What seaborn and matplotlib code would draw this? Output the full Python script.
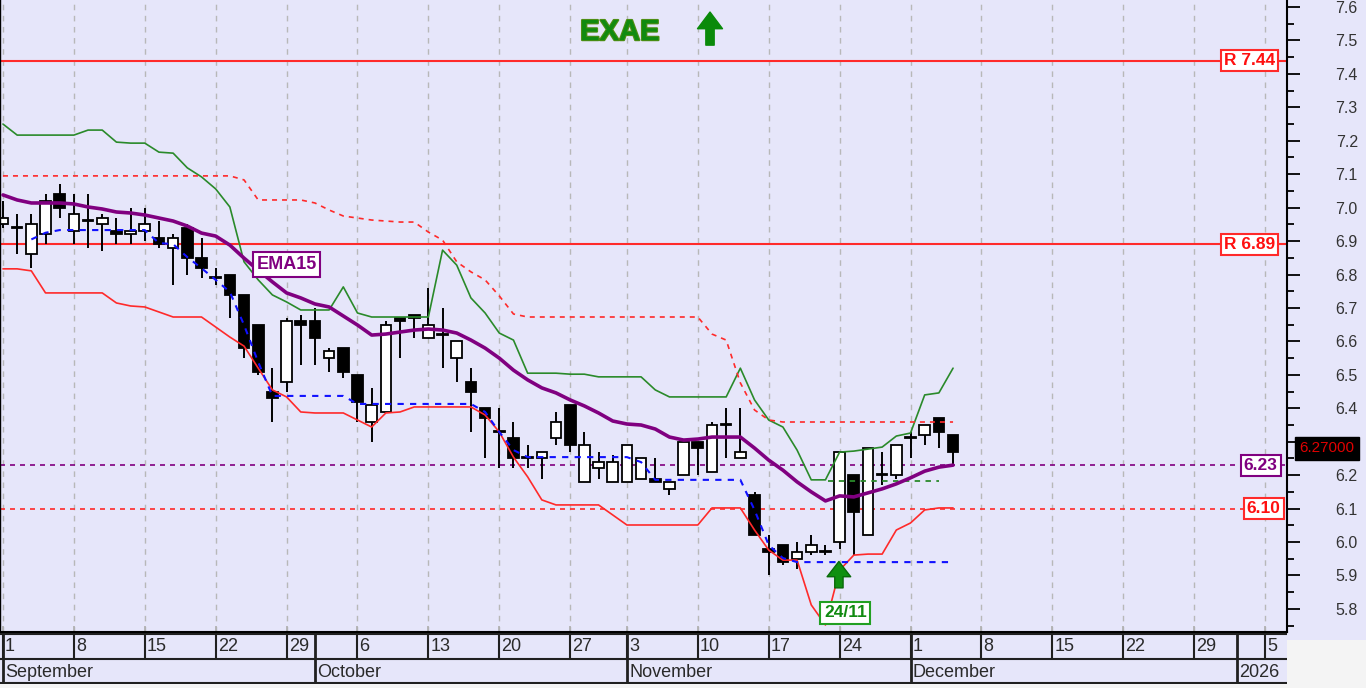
import numpy as np
import pandas as pd
import matplotlib
matplotlib.use('Agg')
import matplotlib.pyplot as plt
import matplotlib.patheffects as pe
from matplotlib.patches import Rectangle
import seaborn as sns

# Daily candles, 1 Sep - 4 Dec 2025 (trading days)
opens = [6.95, 6.94, 6.86, 6.92, 7.04, 6.93, 6.96, 6.95, 6.93, 6.92, 6.93, 6.91, 6.88, 6.94, 6.85,
         6.79, 6.80, 6.74, 6.65, 6.45, 6.48, 6.66, 6.66, 6.55, 6.58, 6.50, 6.36, 6.39, 6.67, 6.68,
         6.61, 6.62, 6.55, 6.48, 6.40, 6.33, 6.31, 6.25, 6.25, 6.31, 6.41, 6.18, 6.22, 6.18, 6.18,
         6.19, 6.19, 6.16, 6.20, 6.30, 6.21, 6.35, 6.25, 6.14, 5.98, 5.99, 5.95, 5.97, 5.97, 6.00,
         6.20, 6.02, 6.20, 6.20, 6.31, 6.32, 6.37, 6.32]
highs = [7.02, 6.98, 6.98, 7.04, 7.07, 7.04, 7.04, 6.98, 6.97, 7.00, 7.00, 6.96, 6.92, 6.95, 6.91,
         6.82, 6.80, 6.74, 6.65, 6.52, 6.67, 6.68, 6.70, 6.58, 6.58, 6.50, 6.46, 6.66, 6.67, 6.68,
         6.76, 6.70, 6.60, 6.52, 6.40, 6.40, 6.36, 6.29, 6.27, 6.39, 6.41, 6.33, 6.27, 6.26, 6.29,
         6.25, 6.25, 6.18, 6.30, 6.30, 6.36, 6.40, 6.40, 6.15, 6.02, 5.99, 6.00, 6.02, 5.99, 6.27,
         6.20, 6.28, 6.27, 6.29, 6.33, 6.35, 6.37, 6.32]
lows = [6.94, 6.86, 6.82, 6.89, 6.97, 6.89, 6.88, 6.87, 6.89, 6.89, 6.90, 6.88, 6.77, 6.80, 6.79,
        6.77, 6.67, 6.55, 6.50, 6.36, 6.45, 6.53, 6.53, 6.51, 6.49, 6.36, 6.30, 6.39, 6.55, 6.61,
        6.61, 6.52, 6.48, 6.33, 6.25, 6.22, 6.22, 6.22, 6.19, 6.29, 6.27, 6.18, 6.19, 6.18, 6.18,
        6.19, 6.18, 6.14, 6.20, 6.20, 6.21, 6.25, 6.25, 6.02, 5.90, 5.93, 5.92, 5.96, 5.96, 5.98,
        5.96, 6.02, 6.17, 6.19, 6.25, 6.29, 6.28, 6.23]
closes = [6.97, 6.94, 6.95, 7.02, 7.00, 6.98, 6.96, 6.97, 6.92, 6.93, 6.95, 6.89, 6.91, 6.85, 6.82,
          6.79, 6.74, 6.58, 6.51, 6.43, 6.66, 6.65, 6.61, 6.57, 6.51, 6.42, 6.41, 6.65, 6.66, 6.67,
          6.65, 6.62, 6.60, 6.45, 6.37, 6.33, 6.25, 6.25, 6.27, 6.36, 6.29, 6.29, 6.24, 6.24, 6.29,
          6.25, 6.18, 6.18, 6.30, 6.28, 6.35, 6.35, 6.27, 6.02, 5.97, 5.94, 5.97, 5.99, 5.97, 6.27,
          6.09, 6.28, 6.20, 6.29, 6.31, 6.35, 6.33, 6.27]

# Indicator lines, one value per trading day
ema15 = [7.038, 7.023, 7.014, 7.014, 7.014, 7.011, 7.002, 6.996, 6.987, 6.984, 6.978, 6.969, 6.960,
         6.945, 6.924, 6.915, 6.888, 6.849, 6.813, 6.778, 6.745, 6.730, 6.712, 6.703, 6.676, 6.649,
         6.619, 6.622, 6.628, 6.634, 6.637, 6.634, 6.625, 6.604, 6.580, 6.550, 6.514, 6.485, 6.461,
         6.446, 6.425, 6.407, 6.386, 6.362, 6.353, 6.350, 6.338, 6.314, 6.305, 6.308, 6.314, 6.314,
         6.314, 6.281, 6.245, 6.215, 6.180, 6.150, 6.123, 6.138, 6.135, 6.147, 6.159, 6.174, 6.192,
         6.212, 6.224, 6.230]
upper_band = [7.250, 7.217, 7.217, 7.217, 7.217, 7.217, 7.232, 7.232, 7.196, 7.193, 7.193, 7.166,
              7.163, 7.119, 7.092, 7.056, 7.002, 6.838, 6.784, 6.739, 6.718, 6.694, 6.694, 6.694,
              6.763, 6.685, 6.673, 6.673, 6.673, 6.673, 6.673, 6.873, 6.828, 6.730, 6.685, 6.625,
              6.604, 6.505, 6.505, 6.505, 6.502, 6.502, 6.494, 6.494, 6.494, 6.494, 6.455, 6.434,
              6.434, 6.434, 6.434, 6.434, 6.520, 6.425, 6.365, 6.344, 6.275, 6.186, 6.186, 6.269,
              6.272, 6.278, 6.284, 6.317, 6.326, 6.440, 6.446, 6.520]
lower_band = [6.817, 6.817, 6.811, 6.745, 6.745, 6.745, 6.745, 6.745, 6.715, 6.706, 6.703, 6.688,
              6.673, 6.673, 6.673, 6.643, 6.613, 6.586, 6.520, 6.455, 6.434, 6.389, 6.386, 6.386,
              6.386, 6.365, 6.344, 6.386, 6.389, 6.404, 6.404, 6.404, 6.404, 6.404, 6.380, 6.329,
              6.254, 6.195, 6.126, 6.111, 6.111, 6.111, 6.111, 6.081, 6.051, 6.051, 6.051, 6.051,
              6.051, 6.051, 6.102, 6.102, 6.102, 6.036, 5.976, 5.946, 5.946, 5.812, 5.752, 5.916,
              5.961, 5.964, 5.964, 6.036, 6.057, 6.096, 6.102, 6.102]
upper_stop = [7.095] * 17 + [7.083, 7.023, 7.023, 7.023, 7.023, 7.014, 6.993, 6.975, 6.969, 6.963,
                             6.960, 6.957, 6.957, 6.927, 6.903, 6.838, 6.808, 6.784, 6.736, 6.682] \
    + [6.673] * 13 + [6.622, 6.604, 6.476, 6.395, 6.365] + [6.359] * 13
support_start = 2
support_line = [6.905, 6.925, 6.933, 6.933, 6.933, 6.933, 6.933, 6.933, 6.933, 6.894, 6.891, 6.852,
                6.819, 6.784, 6.748, 6.649, 6.538, 6.437, 6.437, 6.437, 6.437, 6.437, 6.437, 6.413,
                6.413, 6.413, 6.413, 6.413, 6.413, 6.413, 6.413, 6.413, 6.389, 6.329, 6.275, 6.254,
                6.254, 6.254, 6.254, 6.254, 6.254, 6.254, 6.254, 6.239, 6.186, 6.186, 6.186, 6.186,
                6.186, 6.186, 6.186, 6.096, 5.991, 5.952] + [5.940] * 12

resistances = [7.44, 6.89]
ema_last = 6.23
support_level = 6.10
last_price = 6.27
signal_level = 6.183
signal_day = 59   # 24/11

# trading calendar (Athens: 28 Oct closed), runs past the data into January
days = pd.bdate_range('2025-09-01', '2026-01-09')
days = days[days != pd.Timestamp('2025-10-28')]
n = len(opens)
idx = np.arange(n)

sns.set_theme(style='white', rc={'axes.facecolor': '#E6E6FA', 'figure.facecolor': '#F4F4F4'})
plt.rcParams['font.family'] = ['Liberation Sans', 'DejaVu Sans']

W, H = 1366, 688
fig = plt.figure(figsize=(W / 100, H / 100), dpi=100)
fig.add_artist(Rectangle((1287 / W, 1 - 640 / H), 1 - 1287 / W, 640 / H,
                         transform=fig.transFigure, fc='#E6E6FA', ec='none', zorder=-5))
ax = fig.add_axes([0, 1 - 632 / H, 1287 / W, 632 / H])
axd = fig.add_axes([0, 1 - 684 / H, 1287 / W, 51 / H])

xlim = (-0.21, 90.55)
ax.set_xlim(*xlim)
ax.set_ylim(5.731, 7.621)

mondays = [i for i, d in enumerate(days) if d.weekday() == 0]
month_starts = [i for i in range(len(days)) if i == 0 or days[i].month != days[i - 1].month]

ax.set_xticks(mondays)
ax.set_xticklabels([])
ax.grid(axis='x', color='#B8B8B8', linestyle=(0, (4, 4)), linewidth=1)
ax.grid(axis='y', visible=False)
ax.tick_params(axis='x', direction='in', length=4, color='#B0B0B0', bottom=True)

# candles
o, h, l, c = map(np.array, (opens, highs, lows, closes))
up = c >= o
ax.vlines(idx, l, h, color='black', linewidth=1.4, zorder=2)
ax.bar(idx, np.maximum(np.abs(c - o), 0.003), bottom=np.minimum(o, c), width=0.75,
       color=np.where(up, 'white', 'black'), edgecolor='black', linewidth=1.3, zorder=2.5)

# indicator lines
sns.lineplot(x=idx, y=upper_band, ax=ax, color='#2A8A2A', linewidth=1.2, zorder=3)
sns.lineplot(x=idx, y=lower_band, ax=ax, color='#FF2A2A', linewidth=1.2, zorder=3)
sns.lineplot(x=idx, y=upper_stop, ax=ax, color='#FF2A2A', linewidth=1.2,
             linestyle=(0, (3, 3)), zorder=3)
sns.lineplot(x=np.arange(support_start, n), y=support_line, ax=ax, color='#1010FF',
             linewidth=1.5, linestyle=(0, (3, 3)), zorder=3)
sns.lineplot(x=idx, y=ema15, ax=ax, color='#800080', linewidth=2.6, zorder=4)

# horizontal levels
box = dict(boxstyle='square,pad=0.18', fc='white', lw=1.5)
for r in resistances:
    ax.axhline(r, color='#FF2A2A', linewidth=1.5, zorder=1.5)
    ax.text(87.9, r, f'R {r:.2f}', ha='center', va='center', color='#FF1010',
            fontsize=12.5, fontweight='bold', zorder=6, bbox=dict(box, ec='#FF2A2A'))
ax.axhline(ema_last, color='#800080', linewidth=1.2, linestyle=(0, (3, 3)), zorder=1.5)
ax.text(88.7, ema_last, f'{ema_last:.2f}', ha='center', va='center', color='#800080',
        fontsize=12.5, fontweight='bold', zorder=6, bbox=dict(box, ec='#800080'))
ax.axhline(support_level, color='#FF2A2A', linewidth=1.2, linestyle=(0, (3, 3)), zorder=1.5)
ax.text(88.9, support_level, f'{support_level:.2f}', ha='center', va='center', color='#FF1010',
        fontsize=12.5, fontweight='bold', zorder=6, bbox=dict(box, ec='#FF2A2A'))
ax.hlines(signal_level, 58.2, 66, color='#2A8A2A', linewidth=1.3, linestyle=(0, (3, 3)), zorder=3)

# annotations
ax.text(20.0, 6.830, 'EMA15', ha='center', va='center', color='#800080', fontsize=13,
        fontweight='bold', zorder=6,
        bbox=dict(boxstyle='square,pad=0.2', fc='white', ec='#800080', lw=1.5))
ax.text(43.5, 7.525, 'EXAE', ha='center', va='center', color='#108A10', fontsize=21,
        fontweight='bold', zorder=6,
        path_effects=[pe.withStroke(linewidth=1.6, foreground='#4E8E14')])
ax.annotate('', xy=(49.86, 7.585), xytext=(49.86, 7.486),
            arrowprops=dict(width=6, headwidth=18, headlength=12, fc='#0A8A0A', ec='#0A8A0A'))
ax.annotate('', xy=(signal_day - 0.05, 5.942), xytext=(signal_day - 0.05, 5.863),
            arrowprops=dict(width=6, headwidth=17, headlength=11, fc='#109010', ec='#0A6A0A'))
ax.text(signal_day + 0.4, 5.788, '24/11', ha='center', va='center', color='#108A10',
        fontsize=12.5, fontweight='bold', zorder=6,
        bbox=dict(boxstyle='square,pad=0.2', fc='white', ec='#22A022', lw=1.5))
ax.text(1327 / 1287, last_price + 0.011, f'{last_price:.5f}', transform=ax.get_yaxis_transform(),
        ha='center', va='center', color='#E00000', fontsize=11, clip_on=False, zorder=6,
        bbox=dict(boxstyle='square,pad=0.3', fc='black', ec='black'))

# price axis on the right (the 6.3 label sits under the last-price box)
yt = np.round(np.arange(5.8, 7.61, 0.1), 1)
ax.yaxis.tick_right()
ax.set_yticks(yt)
ax.set_yticks(np.round(np.arange(5.75, 7.62, 0.1), 2), minor=True)
ax.set_yticklabels(['' if abs(v - 6.3) < 1e-6 else f'{v:.1f}' for v in yt])
ax.tick_params(axis='y', which='major', right=True, length=9, width=1.3, color='black',
               labelsize=11.5, labelcolor='#333333', pad=42)
ax.tick_params(axis='y', which='minor', right=True, length=5, width=1.3, color='black')
plt.setp(ax.get_yticklabels(), ha='right')
ax.spines['top'].set_visible(False)
for side in ['left', 'right', 'bottom']:
    ax.spines[side].set_color('black')
ax.spines['right'].set_linewidth(1.5)
ax.spines['bottom'].set_linewidth(1.5)
ax.spines['left'].set_linewidth(1)

# date bar: week row and month row
axd.set_xlim(*xlim)
axd.set_ylim(0, 2)
axd.set_xticks([])
axd.set_yticks([])
for s in axd.spines.values():
    s.set_visible(False)
axd.hlines([0.02, 1, 1.98], xlim[0], xlim[1], color='#202020', linewidth=1.5)
for m in mondays:
    axd.vlines(m, 1, 2, color='#202020', linewidth=1.5)
    axd.text(m + 0.15, 1.46, str(days[m].day), ha='left', va='center', fontsize=13,
             color='#2A2A2A')
for m in month_starts:
    axd.vlines(m, 0, 2, color='#202020', linewidth=2)
    label = str(days[m].year) if days[m].month == 1 else days[m].strftime('%B')
    axd.text(m + 0.15, 0.46, label, ha='left', va='center', fontsize=13, color='#2A2A2A')

fig.savefig('out.png', dpi=100)
